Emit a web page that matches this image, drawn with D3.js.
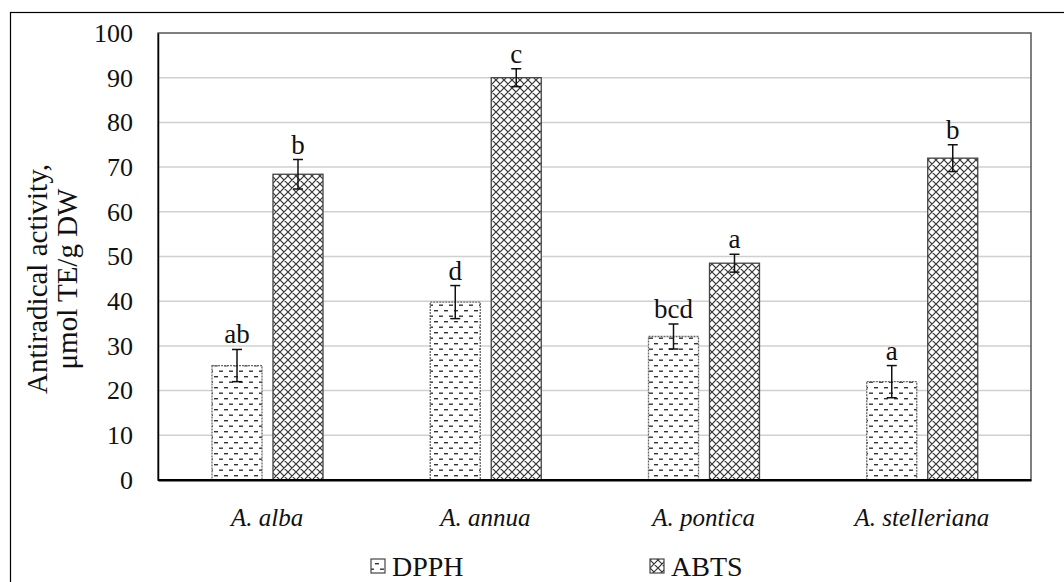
<!DOCTYPE html>
<html><head><meta charset="utf-8">
<script src="https://cdn.jsdelivr.net/npm/d3@7"></script>
<style>body{margin:0;background:#fff}svg{display:block}</style>
</head><body>
<svg id="c" width="1064" height="582"></svg>
<script>
const categories = ["A. alba", "A. annua", "A. pontica", "A. stelleriana"];
const series = ["DPPH", "ABTS"];
const dpph = [25.6, 39.8, 32.1, 22.0];
const dpphErr = [3.6, 3.7, 2.8, 3.6];
const abts = [68.4, 90.0, 48.5, 72.0];
const abtsErr = [3.3, 2.0, 2.0, 3.0];
const dpphLetters = ["ab", "d", "bcd", "a"];
const abtsLetters = ["b", "c", "a", "b"];
const yTicks = [0,10,20,30,40,50,60,70,80,90,100];

const svg = d3.select("#c");
const font = "Liberation Serif, Times New Roman, serif";
const L = 158, R = 1031, T = 33, B = 480;

const defs = svg.append("defs");
const p1 = defs.append("pattern").attr("id","dash").attr("patternUnits","userSpaceOnUse")
  .attr("width",10).attr("height",11).attr("x",213).attr("y",0);
p1.append("rect").attr("width",10).attr("height",11).attr("fill","#fff");
p1.append("rect").attr("x",1).attr("y",2).attr("width",4).attr("height",1.4).attr("fill","#333");
p1.append("rect").attr("x",6).attr("y",7.5).attr("width",4).attr("height",1.4).attr("fill","#333");
const p2 = defs.append("pattern").attr("id","cross").attr("patternUnits","userSpaceOnUse")
  .attr("width",8).attr("height",8);
p2.append("rect").attr("width",8).attr("height",8).attr("fill","#fff");
p2.append("path").attr("d","M0,0L8,8M8,0L0,8M-1,7L1,9M7,-1L9,1M-1,1L1,-1M7,9L9,7")
  .attr("stroke","#333").attr("stroke-width",1.2);

// outer frame
svg.append("rect").attr("x",10.5).attr("y",12.5).attr("width",1060).attr("height",600)
  .attr("fill","none").attr("stroke","#000").attr("stroke-width",1.2);

const y = d3.scaleLinear().domain([0,100]).range([B,T]);
const x0 = d3.scaleBand().domain(categories).range([L,R]).padding(0);
const x1 = d3.scaleBand().domain(series).range([54,165]).paddingInner(0.18).paddingOuter(0);

// grid
svg.append("g").selectAll("line").data(yTicks.filter(d=>d>0&&d<100)).join("line")
  .attr("x1",L).attr("x2",R).attr("y1",d=>y(d)).attr("y2",d=>y(d))
  .attr("stroke","#d0d0d0").attr("stroke-width",1.5);

// plot border
svg.append("rect").attr("x",L).attr("y",T).attr("width",R-L).attr("height",B-T)
  .attr("fill","none").attr("stroke","#555").attr("stroke-width",1.5);

// y axis labels
const yAxis = d3.axisLeft(y).tickValues(yTicks).tickSize(0).tickPadding(25);
const ya = svg.append("g").attr("transform",`translate(${L},0)`).call(yAxis);
ya.attr("font-family",font).attr("font-size",26);
ya.select(".domain").attr("stroke","#000").attr("stroke-width",1.5);
ya.selectAll("text").attr("fill","#111");

// x axis
const xAxis = d3.axisBottom(x0).tickSize(0).tickPadding(28);
const xa = svg.append("g").attr("transform",`translate(0,${B})`).call(xAxis);
xa.attr("font-family",font).attr("font-size",25);
xa.select(".domain").attr("stroke","#000").attr("stroke-width",1.8);
xa.selectAll("text").attr("font-style","italic").attr("fill","#111");

const rows = [];
categories.forEach((c,i)=>{
  rows.push({c, s:"DPPH", v:dpph[i], e:dpphErr[i], l:dpphLetters[i]});
  rows.push({c, s:"ABTS", v:abts[i], e:abtsErr[i], l:abtsLetters[i]});
});

const g = svg.append("g");
g.selectAll("rect.bar").data(rows).join("rect").attr("class","bar")
  .attr("x",d=>x0(d.c)+x1(d.s)).attr("width",x1.bandwidth())
  .attr("y",d=>y(d.v)).attr("height",d=>B-y(d.v))
  .attr("fill",d=>d.s==="DPPH"?"url(#dash)":"url(#cross)")
  .attr("stroke",d=>d.s==="DPPH"?"#666":"#444")
  .attr("stroke-dasharray",d=>d.s==="DPPH"?"2,1":null)
  .attr("stroke-width",1.3);
// redraw baseline
svg.append("line").attr("x1",L).attr("x2",R).attr("y1",B).attr("y2",B).attr("stroke","#000").attr("stroke-width",1.8);

// error bars
const eb = g.selectAll("g.err").data(rows).join("g").attr("class","err")
  .attr("transform",d=>`translate(${x0(d.c)+x1(d.s)+x1.bandwidth()/2},0)`);
eb.append("line").attr("y1",d=>y(d.v+d.e)).attr("y2",d=>y(d.v-d.e)).attr("stroke","#111").attr("stroke-width",1.5);
eb.append("line").attr("x1",-5).attr("x2",5).attr("y1",d=>y(d.v+d.e)).attr("y2",d=>y(d.v+d.e)).attr("stroke","#111").attr("stroke-width",1.5);
eb.append("line").attr("x1",-5).attr("x2",5).attr("y1",d=>y(d.v-d.e)).attr("y2",d=>y(d.v-d.e)).attr("stroke","#111").attr("stroke-width",1.5);
eb.append("text").attr("y",d=>y(d.v+d.e)-6).attr("text-anchor","middle")
  .attr("font-family",font).attr("font-size",27).attr("fill","#111").text(d=>d.l);

// y title
const yt = svg.append("text").attr("transform","translate(0,279) rotate(-90)")
  .attr("text-anchor","middle").attr("font-family",font).attr("font-size",29).attr("fill","#111");
yt.append("tspan").attr("x",0).attr("y",47).text("Antiradical activity,");
yt.append("tspan").attr("x",0).attr("y",77).text("μmol TE/g DW");

// legend
const leg = [{s:"DPPH", x:371},{s:"ABTS", x:650}];
const lg = svg.append("g").selectAll("g").data(leg).join("g").attr("transform",d=>`translate(${d.x},0)`);
lg.append("rect").attr("x",0).attr("y",559).attr("width",14).attr("height",14)
  .attr("fill",d=>d.s==="DPPH"?"url(#dash)":"url(#cross)").attr("stroke","#444").attr("stroke-width",1.2);
lg.append("text").attr("x",21).attr("y",576).attr("font-family",font).attr("font-size",28).attr("fill","#111").text(d=>d.s);
</script>
</body></html>
